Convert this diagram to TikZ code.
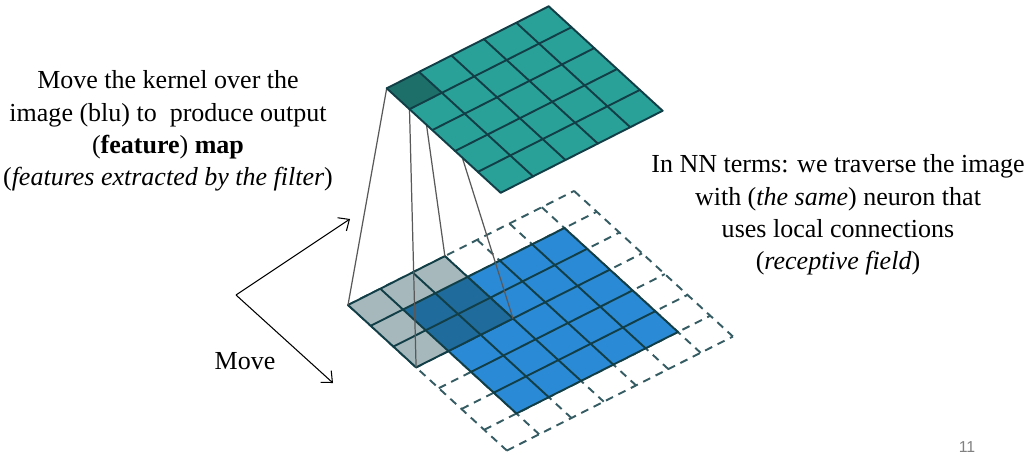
\documentclass[tikz,border=0pt]{standalone}
\usepackage{fontspec}
\setmainfont{Liberation Serif}
\newfontfamily\slidefont{Liberation Sans}
\usetikzlibrary{positioning}
\usetikzlibrary{arrows.meta}
\definecolor{tealcell}{HTML}{2AA198}
\definecolor{tealdark}{HTML}{1D6F6A}
\definecolor{bluecell}{HTML}{2B8AD6}
\definecolor{bluedark}{HTML}{1F6B9C}
\definecolor{greycell}{HTML}{A6B8BC}
\definecolor{gridline}{HTML}{123F47}
\tikzset{
    gridl/.style = {draw=gridline, line width=1.1pt, line cap=round},
    padl/.style = {draw=gridline!85, line width=1.1pt, dash pattern=on 4.5pt off 3.4pt}, % padding
    projl/.style = {draw=black!65, line width=0.7pt},
    movearrow/.style = {-{Straight Barb[length=5pt,width=9pt]}, line width=0.6pt},
    textblock/.style = {align=center, font=\fontsize{14.8}{18.4}\selectfont},
    bottomgrid/.style = {shift={(348,305)}, x={(0.646cm,0.326cm)}, y={(0.454cm,-0.416cm)}},
    topgrid/.style = {shift={(386.7,88.3)}, x={(0.648cm,0.328cm)}, y={(0.456cm,-0.418cm)}}
}
\begin{document}
\begin{tikzpicture}[x=0.02cm, y=-0.02cm]
  \useasboundingbox (0,0) rectangle (1035,454);

  % padded input
  \begin{scope}[bottomgrid]
    \foreach \i in {0,...,7} {
      \draw[padl] (\i,0) -- (\i,7);
      \draw[padl] (0,\i) -- (7,\i);
    }
    \fill[bluecell] (1,1) -- (6,1) -- (6,6) -- (1,6) -- cycle;
    \foreach \i in {1,...,6} {
      \draw[gridl] (\i,1) -- (\i,6);
      \draw[gridl] (1,\i) -- (6,\i);
    }
    % kernel
    \fill[greycell] (0,0) -- (3,0) -- (3,1) -- (1,1) -- (1,3) -- (0,3) -- cycle;
    \fill[bluedark] (1,1) -- (3,1) -- (3,3) -- (1,3) -- cycle;
    \foreach \i in {0,...,3} {
      \draw[gridl] (\i,0) -- (\i,3);
      \draw[gridl] (0,\i) -- (3,\i);
    }
    \coordinate (k00) at (0,0);
    \coordinate (k30) at (3,0);
    \coordinate (k03) at (0,3);
    \coordinate (k33) at (3,3);
  \end{scope}

  \begin{scope}[topgrid]
    \coordinate (o00) at (0,0);
    \coordinate (o10) at (1,0);
    \coordinate (o01) at (0,1);
    \coordinate (o11) at (1,1);
  \end{scope}

  \draw[projl] (o00) -- (k00);
  \draw[projl] (o10) -- (k30);
  \draw[projl] (o01) -- (k03);
  \draw[projl] (o11) -- (k33);

  % output map
  \begin{scope}[topgrid]
    \fill[tealcell] (0,0) -- (5,0) -- (5,5) -- (0,5) -- cycle;
    \fill[tealdark] (0,0) -- (1,0) -- (1,1) -- (0,1) -- cycle;
    \foreach \i in {0,...,5} {
      \draw[gridl] (\i,0) -- (\i,5);
      \draw[gridl] (0,\i) -- (5,\i);
    }
  \end{scope}

  \coordinate (mv) at (236,295);
  \coordinate (mvup) at (350,219);
  \coordinate (mvdown) at (333,383);
  \draw[movearrow] (mv) -- (mvup);
  \draw[movearrow] (mv) -- (mvdown);
  \node[textblock] (move) at (245,361) {Move};

  \node[textblock] (kerneltext) at (168,131) {Move the kernel over the\\
    image (blu) to\ \ produce output\\
    (\textbf{feature}) \textbf{map}\\
    (\textit{features extracted by the filter})};
  \node[textblock] (nntext) at (838,215) {In NN terms: we traverse the image\\
    with (\textit{the same}) neuron that\\
    uses local connections\\
    (\textit{receptive field})};

  \node[anchor=base, inner sep=0pt, text=black!50, font=\slidefont\fontsize{9}{10}\selectfont] (slideno) at (967,452) {11};
\end{tikzpicture}
\end{document}
